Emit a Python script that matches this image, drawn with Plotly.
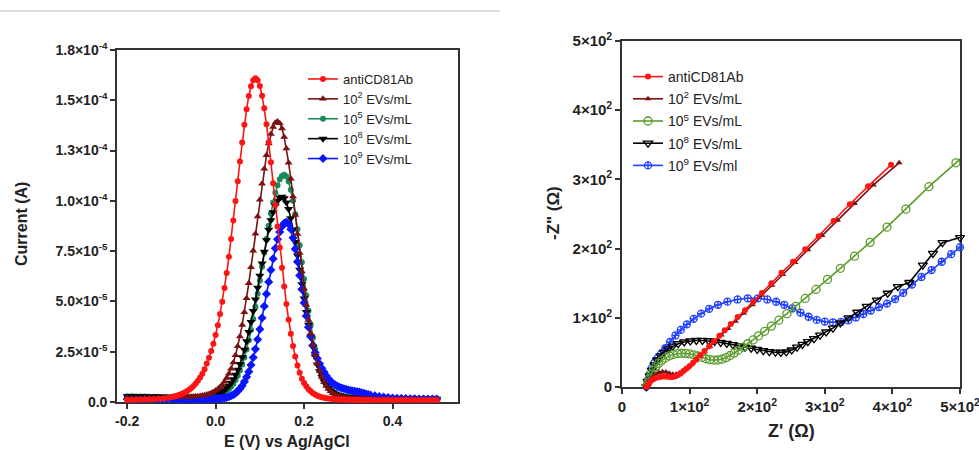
import plotly.graph_objects as go

# ---------------- DPV data (left panel) ----------------
E_V = [-0.2, -0.19, -0.18, -0.17, -0.16, -0.15, -0.14, -0.13, -0.12, -0.11,
       -0.1, -0.095, -0.09, -0.085, -0.08, -0.075, -0.07, -0.065, -0.06, -0.055,
       -0.05, -0.045, -0.04, -0.035, -0.03, -0.025, -0.02, -0.015, -0.01, -0.005,
       0.0, 0.005, 0.01, 0.015, 0.02, 0.025, 0.03, 0.035, 0.04, 0.045,
       0.05, 0.055, 0.06, 0.065, 0.07, 0.075, 0.08, 0.085, 0.09, 0.095,
       0.1, 0.105, 0.11, 0.115, 0.12, 0.125, 0.13, 0.135, 0.14, 0.145,
       0.15, 0.155, 0.16, 0.165, 0.17, 0.175, 0.18, 0.185, 0.19, 0.195,
       0.2, 0.205, 0.21, 0.215, 0.22, 0.225, 0.23, 0.235, 0.24, 0.245,
       0.25, 0.255, 0.26, 0.265, 0.27, 0.275, 0.28, 0.285, 0.29, 0.295,
       0.3, 0.305, 0.31, 0.315, 0.32, 0.325, 0.33, 0.335, 0.34, 0.345,
       0.35,
       0.36, 0.37, 0.38, 0.39, 0.4, 0.41, 0.42, 0.43, 0.44, 0.45, 0.46, 0.47, 0.48, 0.49, 0.5]

# currents in microampere
I_ANTI = [1.0, 1.05, 1.1, 1.15, 1.2, 1.3, 1.4, 1.6, 1.8, 2.0,
          2.4, 2.7, 3.0, 3.3, 3.7, 4.2, 4.7, 5.4, 6.1, 7.0,
          8.0, 9.2, 10.6, 12.2, 14.1, 16.3, 19.1, 22.0, 25.3, 29.0,
          33.3, 38.2, 43.7, 49.8, 56.7, 64.1, 72.2, 81.0, 90.2, 99.9,
          109.8, 119.6, 129.0, 137.8, 145.6, 152.1, 157.0, 160.0, 161.0, 160.0,
          157.1, 152.3, 146.0, 138.1, 129.1, 119.2, 108.8, 98.0, 87.3, 76.8,
          66.8, 57.4, 48.7, 40.9, 33.9, 27.9, 22.6, 18.2, 14.6, 11.5,
          9.5, 7.8, 6.4, 5.3, 4.4, 3.7, 3.1, 2.7, 2.4, 2.1,
          1.9, 1.7, 1.6, 1.5, 1.4, 1.3, 1.3, 1.2, 1.2, 1.1,
          1.1, 1.1, 1.1, 1.0, 1.0, 1.0, 1.0, 1.0, 1.0, 1.0,
          1.0,
          1.0, 1.0, 1.0, 1.0, 1.0, 1.0, 1.0, 1.0, 1.0, 1.0, 1.0, 1.0, 1.0, 1.0, 1.0]

I_E2 = [2.0, 2.0, 2.05, 2.05, 2.1, 2.1, 2.1, 2.15, 2.15, 2.2,
        2.2, 2.2, 2.2, 2.3, 2.3, 2.4, 2.4, 2.5, 2.5, 2.6,
        2.7, 2.8, 2.9, 3.0, 3.2, 3.4, 3.7, 4.0, 4.5, 5.0,
        5.7, 6.5, 7.5, 8.6, 10.1, 11.9, 14.0, 16.5, 19.6, 23.3,
        27.7, 32.6, 38.3, 44.6, 51.6, 59.0, 67.0, 75.2, 83.7, 92.2,
        100.5, 108.5, 116.0, 122.7, 128.5, 133.2, 136.7, 138.8, 139.5, 138.6,
        136.0, 131.7, 126.0, 119.0, 111.0, 102.2, 93.0, 83.5, 74.1, 64.9,
        56.3, 48.2, 40.8, 34.2, 28.3, 23.3, 19.0, 15.4, 12.4, 10.0,
        8.0, 6.5, 5.3, 4.4, 3.7, 3.2, 2.8, 2.5, 2.3, 2.1,
        2.0, 1.9, 1.8, 1.8, 1.7, 1.7, 1.6, 1.6, 1.6, 1.5,
        1.5,
        1.5, 1.5, 1.5, 1.4, 1.4, 1.4, 1.4, 1.4, 1.3, 1.3, 1.3, 1.3, 1.3, 1.3, 1.3]

I_E5 = [2.8, 2.8, 2.7, 2.7, 2.7, 2.6, 2.6, 2.6, 2.5, 2.5,
        2.5, 2.5, 2.5, 2.5, 2.5, 2.5, 2.5, 2.5, 2.5, 2.5,
        2.5, 2.5, 2.5, 2.5, 2.6, 2.6, 2.65, 2.7, 2.8, 3.0,
        3.15, 3.4, 3.7, 4.2, 4.8, 5.5, 6.4, 7.6, 9.1, 10.9,
        13.0, 15.6, 18.6, 22.1, 26.1, 30.7, 35.8, 41.3, 47.4, 53.8,
        60.4, 67.3, 74.2, 81.0, 87.6, 93.7, 99.2, 104.0, 107.8, 110.7,
        112.4, 113.0, 112.1, 109.6, 105.5, 100.0, 93.4, 85.9, 77.9, 69.5,
        61.2, 53.1, 45.4, 38.4, 32.0, 26.4, 21.5, 17.5, 14.1, 11.3,
        9.1, 7.4, 6.0, 5.0, 4.3, 3.7, 3.3, 3.0, 2.8, 2.6,
        2.5, 2.4, 2.3, 2.3, 2.2, 2.2, 2.1, 2.1, 2.1, 2.0,
        2.0,
        2.0, 2.0, 1.9, 1.9, 1.9, 1.8, 1.8, 1.8, 1.8, 1.7, 1.7, 1.7, 1.7, 1.7, 1.7]

I_E8 = [2.9, 2.9, 2.8, 2.8, 2.8, 2.7, 2.7, 2.7, 2.6, 2.6,
        2.5, 2.5, 2.5, 2.5, 2.5, 2.5, 2.5, 2.5, 2.5, 2.5,
        2.5, 2.6, 2.6, 2.6, 2.65, 2.7, 2.8, 2.9, 3.1, 3.3,
        3.6, 4.0, 4.5, 5.1, 5.9, 6.9, 8.1, 9.6, 11.3, 13.5,
        16.0, 18.9, 22.2, 26.0, 30.2, 34.8, 39.8, 45.2, 50.9, 56.8,
        62.8, 68.9, 74.7, 80.4, 85.6, 90.3, 94.3, 97.6, 100.0, 101.5,
        102.0, 101.3, 99.2, 95.9, 91.3, 85.8, 79.6, 72.8, 65.7, 58.5,
        51.5, 44.7, 38.4, 32.5, 27.3, 22.7, 18.7, 15.3, 12.5, 10.2,
        8.4, 6.9, 5.7, 4.8, 4.1, 3.6, 3.2, 2.9, 2.7, 2.5,
        2.4, 2.3, 2.2, 2.2, 2.1, 2.1, 2.0, 2.0, 2.0, 1.9,
        1.9,
        1.9, 1.9, 1.8, 1.8, 1.8, 1.8, 1.7, 1.7, 1.7, 1.7, 1.6, 1.6, 1.6, 1.6, 1.6]

I_E9 = [1.5, 1.5, 1.5, 1.5, 1.5, 1.5, 1.5, 1.5, 1.5, 1.5,
        1.5, 1.5, 1.5, 1.5, 1.5, 1.5, 1.5, 1.5, 1.5, 1.5,
        1.5, 1.5, 1.5, 1.5, 1.5, 1.5, 1.5, 1.5, 1.6, 1.6,
        1.63, 1.7, 1.8, 1.9, 2.05, 2.3, 2.6, 3.1, 3.6, 4.4,
        5.4, 6.6, 8.1, 10.1, 12.4, 15.1, 18.4, 22.1, 26.3, 31.1,
        36.2, 41.8, 47.6, 53.7, 59.7, 65.6, 71.2, 76.4, 80.9, 84.5,
        87.3, 88.9, 89.5, 88.5, 85.9, 81.6, 76.1, 69.7, 62.9, 56.0,
        49.3, 42.8, 37.2, 32.5, 28.2, 24.6, 21.6, 19.0, 16.8, 14.9,
        13.1, 11.5, 10.3, 9.3, 8.5, 7.9, 7.3, 6.9, 6.6, 6.3,
        6.0, 5.7, 5.5, 5.3, 5.1, 4.9, 4.6, 4.3, 4.0, 3.7,
        3.4,
        3.1, 2.7, 2.4, 2.2, 2.0, 1.9, 1.8, 1.7, 1.6, 1.6, 1.5, 1.5, 1.5, 1.5, 1.5]

DPV_Y_TICKS = [0, 2.5e-5, 5.0e-5, 7.5e-5, 1.0e-4, 1.25e-4, 1.5e-4, 1.75e-4]
DPV_Y_LABELS = ["0.0", "2.5×10<sup>-5</sup>", "5.0×10<sup>-5</sup>", "7.5×10<sup>-5</sup>",
                "1.0×10<sup>-4</sup>", "1.3×10<sup>-4</sup>", "1.5×10<sup>-4</sup>", "1.8×10<sup>-4</sup>"]
DPV_X_TICKS = [-0.2, 0.0, 0.2, 0.4]
DPV_X_LABELS = ["-0.2", "0.0", "0.2", "0.4"]

# ---------------- Nyquist data (right panel) ----------------
ANTI_ZRE = [36, 38, 40, 43, 47, 51, 56, 61, 66, 71, 75, 79, 83, 87, 91, 95, 100, 105, 110, 116,
            122, 129, 136, 144, 152, 161, 171, 182, 194, 207, 221, 236, 253, 271, 291, 313, 337, 364, 398]
ANTI_ZIM = [0.5, 3, 6, 9, 11.5, 13.5, 14.5, 15, 14.8, 14.5, 14.5, 15.5, 17.5, 20, 23, 26.5, 30.5, 35, 40, 46,
            52, 59, 66, 74, 82, 91, 101, 111, 123, 136, 150, 165, 181, 199, 218, 240, 264, 290, 321]

E2_ZRE = [36, 38, 41, 45, 50, 55, 60, 65, 70, 75, 80, 85, 90, 96, 102, 108, 115, 122, 130, 138,
          147, 157, 168, 180, 193, 207, 222, 238, 256, 275, 296, 319, 344, 372, 410]
E2_ZIM = [0.5, 4, 9, 14, 18, 21, 22, 21.5, 20, 18.5, 18.5, 20, 23, 27, 32, 37.5, 44, 51, 58.5, 66.5,
          75, 84.5, 95, 106.5, 119, 132.5, 147, 162.5, 180, 198.5, 219, 241, 265, 292, 324]

E5_ZRE = [36, 38, 40, 43, 46, 50, 54, 59, 64, 70, 76, 82, 88, 94, 100, 106, 112, 118, 124, 130,
          136, 142, 148, 154, 160, 166, 172, 179, 186, 194, 202, 211, 221, 232, 244, 257, 271, 287,
          304, 323, 344, 367, 392, 420, 454, 494, 510]
E5_ZIM = [0.5, 6, 12, 18, 24, 29.5, 34, 38.5, 42, 45, 47, 48.3, 48.8, 48.6, 47.8, 46.5, 44.8, 42.8, 40.8, 39.5,
          38.8, 39, 40.2, 42.5, 45.5, 49, 53, 57.5, 62.5, 68, 74, 80.5, 88, 96.5, 106, 116.5, 128, 141,
          155.5, 171.5, 189, 209, 231, 257, 289.5, 324, 338]

E8_ZRE = [36, 38, 41, 44, 48, 52, 57, 62, 68, 75, 83, 92, 101, 110, 119, 128, 137, 146, 155, 164,
          173, 182, 191, 200, 209, 218, 227, 235, 243, 251, 259, 267, 275, 284, 293, 302, 312, 323,
          335, 348, 362, 377, 393, 408, 425, 445, 460, 474, 500]
E8_ZIM = [0.5, 8, 16, 24, 32, 39, 45, 50.5, 55, 59, 62.5, 65, 66.5, 67.2, 67.3, 66.8, 65.8, 64.5, 63, 61.3,
          59.5, 57.7, 56, 54.3, 52.6, 51.2, 50.3, 50, 50.8, 53.5, 57.5, 61.5, 65.5, 70, 75, 79.5, 85, 92.5,
          100, 108, 116.5, 125.5, 135.5, 145, 151, 176, 193, 208.5, 216]

E9_ZRE = [36, 38, 41, 44, 48, 53, 58, 64, 71, 79, 87, 96, 106, 117, 129, 142, 156, 171, 186, 201,
          215, 228, 240, 252, 264, 276, 288, 300, 312, 324, 335, 346, 357, 368, 380, 392, 404, 416,
          429, 443, 458, 473, 487, 500]
E9_ZIM = [0.5, 9, 18, 27, 35, 42, 48, 56, 65, 74.5, 82.5, 90.5, 98.5, 106, 113, 118.8, 123.3, 126.5, 128.2, 128.2,
          126.5, 123.2, 118.8, 113.5, 107.5, 101.5, 97, 94.5, 93.5, 94, 96.5, 100.5, 105.5, 110.5, 115.5, 120.5, 127, 136,
          148, 159, 169, 181, 192, 202]

NYQ_TICKS = [0, 100, 200, 300, 400, 500]
NYQ_LABELS = ["0", "1×10<sup>2</sup>", "2×10<sup>2</sup>", "3×10<sup>2</sup>", "4×10<sup>2</sup>", "5×10<sup>2</sup>"]

NAMES_DPV = ["antiCD81Ab", "10<sup>2</sup> EVs/mL", "10<sup>5</sup> EVs/mL", "10<sup>8</sup> EVs/mL", "10<sup>9</sup> EVs/mL"]
NAMES_NYQ = ["antiCD81Ab", "10<sup>2</sup> EVs/mL", "10<sup>5</sup> EVs/mL", "10<sup>8</sup> EVs/mL", "10<sup>9</sup> EVs/ml"]

FONT = "Liberation Sans, Arial, Helvetica, sans-serif"
W, H = 979, 450

fig = go.Figure()

def ua(vals):
    return [v * 1e-6 for v in vals]

# Left panel traces (draw order: green, black, blue, brown, red on top)
dpv_specs = [
    (I_E5, NAMES_DPV[2], "#1b8a5a", "circle", 6, 3),
    (I_E8, NAMES_DPV[3], "#000000", "triangle-down", 8, 4),
    (I_E9, NAMES_DPV[4], "#0a14ff", "diamond", 7, 5),
    (I_E2, NAMES_DPV[1], "#7a1212", "triangle-up", 7, 2),
    (I_ANTI, NAMES_DPV[0], "#ff1414", "circle", 6, 1),
]
for vals, name, col, sym, size, rank in dpv_specs:
    fig.add_trace(go.Scatter(
        x=E_V, y=ua(vals), name=name, mode="lines+markers",
        line=dict(color=col, width=1.6),
        marker=dict(color=col, symbol=sym, size=size, line=dict(width=0)),
        xaxis="x", yaxis="y", legend="legend", legendrank=rank,
        legendgroup="l%d" % rank, cliponaxis=False,
    ))

# Right panel traces
nyq_specs = [
    (E9_ZRE, E9_ZIM, NAMES_NYQ[4], "#2040ff", "circle-cross-open", 7, 5, 1.3),
    (E8_ZRE, E8_ZIM, NAMES_NYQ[3], "#000000", "triangle-down-open", 8, 4, 1.3),
    (E5_ZRE, E5_ZIM, NAMES_NYQ[2], "#5c9c2c", "circle-open", 8, 3, 1.3),
    (E2_ZRE, E2_ZIM, NAMES_NYQ[1], "#7a1212", "triangle-up", 6, 2, 0),
    (ANTI_ZRE, ANTI_ZIM, NAMES_NYQ[0], "#ff1414", "circle", 6, 1, 0),
]
for zr, zi, name, col, sym, size, rank, lw in nyq_specs:
    fig.add_trace(go.Scatter(
        x=zr, y=zi, name=name, mode="lines+markers",
        line=dict(color=col, width=1.6),
        marker=dict(color=col, symbol=sym, size=size, line=dict(width=lw, color=col)),
        xaxis="x2", yaxis="y2", legend="legend2", legendrank=rank,
        legendgroup="r%d" % rank, cliponaxis=(rank == 3),
    ))

def axis_style(fs):
    return dict(
        showline=True, linewidth=1.6, linecolor="#333333", mirror=True,
        ticks="outside", ticklen=5, tickwidth=1.5, tickcolor="#333333",
        showgrid=False, zeroline=False, layer="below traces", automargin=False,
        ticklabeloverflow="allow",
        tickfont=dict(family=FONT, size=fs, color="#222222", weight="bold"),
    )

fig.update_layout(
    width=W, height=H, autosize=False,
    margin=dict(l=0, r=0, t=0, b=0, pad=0),
    paper_bgcolor="white", plot_bgcolor="white",
    font=dict(family=FONT, color="#222222"),
    xaxis=dict(domain=[117 / W, 458 / W], range=[-0.223, 0.548], anchor="y",
               tickvals=DPV_X_TICKS, ticktext=DPV_X_LABELS, **axis_style(14)),
    yaxis=dict(domain=[1 - 402 / H, 1 - 50 / H], range=[0, 1.75e-4], anchor="x",
               tickvals=DPV_Y_TICKS, ticktext=DPV_Y_LABELS, **axis_style(14)),
    xaxis2=dict(domain=[622 / W, 960 / W], range=[0, 500], anchor="y2",
                tickvals=NYQ_TICKS, ticktext=NYQ_LABELS, **axis_style(15)),
    yaxis2=dict(domain=[1 - 387 / H, 1 - 41 / H], range=[0, 500], anchor="x2",
                tickvals=NYQ_TICKS, ticktext=NYQ_LABELS, **axis_style(15)),
    legend=dict(x=303 / W, y=1 - 64 / H, xanchor="left", yanchor="top",
                bgcolor="rgba(0,0,0,0)", font=dict(family=FONT, size=13, color="#222222"),
                traceorder="grouped", tracegroupgap=0, itemwidth=30),
    legend2=dict(x=628 / W, y=1 - 61 / H, xanchor="left", yanchor="top",
                 bgcolor="rgba(0,0,0,0)", font=dict(family=FONT, size=14, color="#222222"),
                 traceorder="grouped", tracegroupgap=1, itemwidth=30),
    showlegend=True,
)

fig.add_shape(type="line", xref="paper", yref="paper", x0=0, x1=500 / W,
              y0=1 - 11 / H, y1=1 - 11 / H, line=dict(color="#dddddd", width=2))

ann_font = dict(family=FONT, size=16, color="#222222", weight="bold")
fig.add_annotation(text="Current (A)", xref="paper", yref="paper", x=21 / W, y=1 - 224 / H,
                   textangle=-90, showarrow=False, font=ann_font, xanchor="center", yanchor="middle")
fig.add_annotation(text="E (V) vs Ag/AgCl", xref="paper", yref="paper", x=287 / W, y=1 - 441 / H,
                   showarrow=False, font=ann_font, xanchor="center", yanchor="middle")
fig.add_annotation(text="-Z\" (Ω)", xref="paper", yref="paper", x=553 / W, y=1 - 213 / H,
                   textangle=-90, showarrow=False, font=dict(family=FONT, size=17, color="#222222", weight="bold"),
                   xanchor="center", yanchor="middle")
fig.add_annotation(text="Z' (Ω)", xref="paper", yref="paper", x=791 / W, y=1 - 431 / H,
                   showarrow=False, font=dict(family=FONT, size=18, color="#222222", weight="bold"),
                   xanchor="center", yanchor="middle")

fig.write_html("out.html", config={"displayModeBar": False},
               post_script="document.body.style.margin='0px';document.body.style.overflow='hidden';")
